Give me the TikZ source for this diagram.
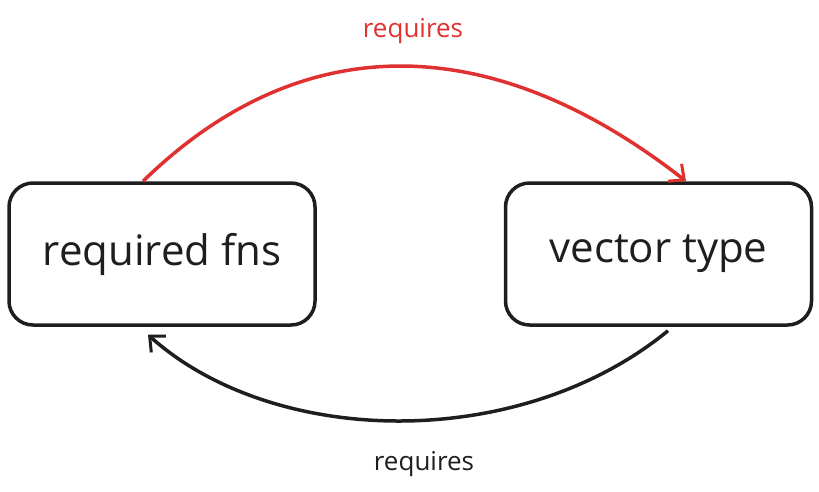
\documentclass[tikz,border=0pt]{standalone}
\usepackage{fontspec}
\setmainfont{Open Sans}
\usetikzlibrary{arrows.meta}
\definecolor{inkred}{HTML}{E03131}
\definecolor{ink}{HTML}{1E1E1E}
\begin{document}
\begin{tikzpicture}[x=1pt,y=-1pt,
        box/.style={draw=ink,line width=3.5pt,rounded corners=24pt,minimum width=306pt,minimum height=142pt,font=\fontsize{42}{46}\selectfont,text=ink},
        link/.style={line width=3.5pt,-{Straight Barb[length=12pt,width=22pt,line width=3pt]}},
        tag/.style={font=\fontsize{26}{30}\selectfont}]
                \useasboundingbox (0,0) rectangle (819,491);
                \node[box] (fns) at (162,254) {required fns};
                \node[box] (vec) at (658.5,254) {vector type};

                \draw[link,inkred] ([xshift=-19pt]fns.north) .. controls (300,28) and (490,28) .. ([xshift=27.5pt]vec.north);
                \draw[link,ink] ([xshift=9.5pt,yshift=-4pt]vec.south) .. controls (520,452) and (275,448) .. ([xshift=-14pt,yshift=-8pt]fns.south);

                \node[tag,text=inkred] (topreq) at (413,31) {requires};
                \node[tag,text=ink] (botreq) at (424,464) {requires};
            \end{tikzpicture}
\end{document}
